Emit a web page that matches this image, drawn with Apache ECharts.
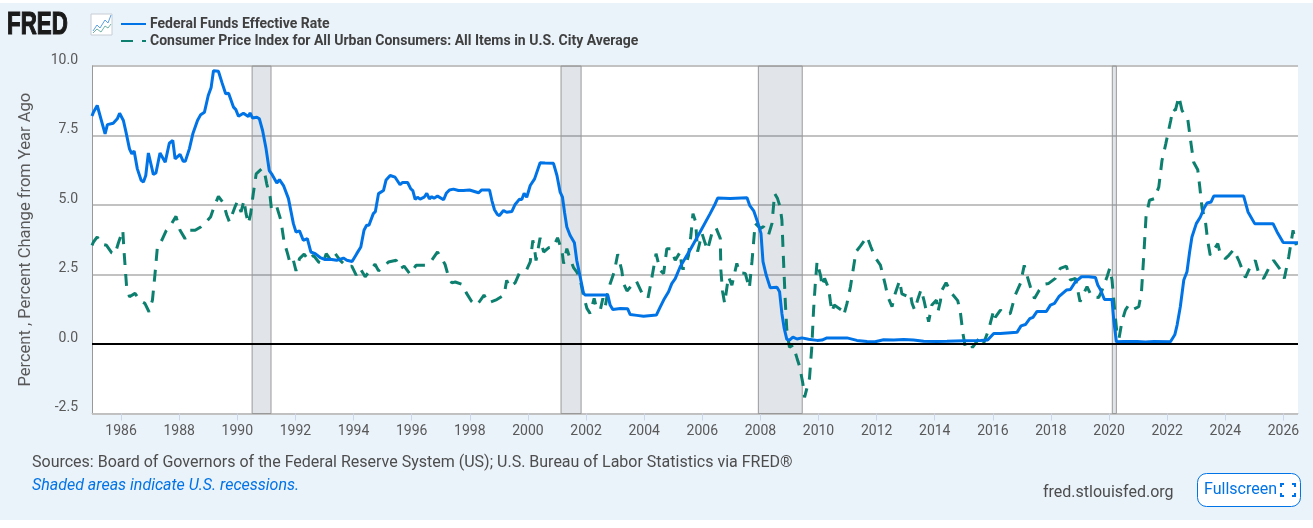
<!DOCTYPE html>
<html><head><meta charset="utf-8">
<script src="https://cdn.jsdelivr.net/npm/echarts@6/dist/echarts.min.js"></script>
<style>
html,body{margin:0;padding:0;background:#fff;width:1313px;height:528px;overflow:hidden}
#bg{position:absolute;left:0;top:3px;width:1313px;height:517px;background:#eaf2fa}
#chart{position:absolute;left:0;top:0;width:1313px;height:528px}
</style></head><body><div id="bg"></div><div id="chart"></div>
<script>
const tickYears=[1986,1988,1990,1992,1994,1996,1998,2000,2002,2004,2006,2008,2010,2012,2014,2016,2018,2020,2022,2024,2026];
const recessionStarts=[1990.51,2001.14,2007.93,2020.11];
const recessionEnds=[1991.16,2001.83,2009.44,2020.25];
const fedYears=[1985.0,1985.05,1985.18,1985.45,1985.53,1985.73,1985.87,1985.95,1986.08,1986.17,1986.29,1986.37,1986.45,1986.56,1986.69,1986.77,1986.85,1986.94,1987.11,1987.2,1987.34,1987.52,1987.66,1987.78,1987.86,1988.03,1988.14,1988.21,1988.35,1988.47,1988.63,1988.74,1988.87,1989.0,1989.1,1989.18,1989.35,1989.47,1989.6,1989.7,1989.87,1989.95,1990.04,1990.21,1990.38,1990.44,1990.52,1990.67,1990.76,1990.87,1990.99,1991.1,1991.18,1991.36,1991.45,1991.59,1991.76,1991.93,1992.02,1992.14,1992.27,1992.41,1992.53,1992.68,1992.85,1993.02,1993.19,1993.42,1993.65,1993.77,1993.95,1994.11,1994.25,1994.36,1994.45,1994.53,1994.68,1994.75,1994.86,
1995.03,1995.12,1995.26,1995.43,1995.6,1995.69,1995.86,1995.97,1996.04,1996.12,1996.2,1996.29,1996.43,1996.52,1996.61,1996.69,1996.77,1996.89,1997.1,1997.19,1997.3,1997.44,1997.61,1997.78,1997.99,1998.3,1998.41,1998.68,1998.76,1998.85,1998.95,1999.02,1999.16,1999.27,1999.45,1999.56,1999.71,1999.79,1999.87,1999.96,2000.08,2000.23,2000.42,2000.59,2000.88,2001.0,2001.11,2001.19,2001.26,2001.34,2001.45,2001.6,2001.68,2001.8,2001.91,2001.97,2002.37,2002.75,2002.83,2002.92,2003.18,2003.43,2003.52,2003.75,2003.98,2004.42,2004.53,2004.67,2004.84,2004.95,2005.07,
2005.24,2005.58,2005.93,2006.27,2006.42,2006.53,2006.96,2007.54,2007.63,2007.77,2007.9,2008.02,2008.09,2008.2,2008.34,2008.57,2008.66,2008.74,2008.82,2008.91,2009.0,2009.12,2009.26,2009.43,2009.66,2009.95,2010.12,2010.29,2010.63,2010.98,2011.32,2011.67,2011.95,2012.24,2012.59,2012.93,2013.27,2013.62,2014.08,2014.42,2015.0,2015.57,
2015.82,2016.03,2016.26,2016.83,2016.97,2017.12,2017.27,2017.38,2017.52,2017.84,2017.98,2018.12,2018.27,2018.53,2018.67,2018.84,2019.05,2019.3,2019.53,2019.61,2019.7,2019.84,2020.1,2020.16,2020.25,2020.5,2020.96,2021.25,2021.54,2022.11,2022.26,2022.34,2022.45,2022.57,2022.68,2022.77,2022.85,2023.0,2023.14,2023.26,2023.37,2023.51,2023.6,2024.63,2024.78,2025.01,2025.64,2025.78,2025.99,2026.5];
const fedRates=[8.2,8.34,8.58,7.56,7.89,7.94,8.1,8.3,8.04,7.62,7.02,6.84,6.94,6.3,5.89,5.83,6.06,6.87,6.1,6.15,6.87,6.54,7.22,7.32,6.66,6.82,6.57,6.57,7.02,7.56,8.04,8.25,8.34,8.94,9.23,9.83,9.81,9.41,9.0,9.02,8.52,8.43,8.19,8.3,8.18,8.31,8.13,8.16,8.1,7.68,7.02,6.24,6.12,5.79,5.91,5.7,5.23,4.33,4.03,4.07,3.73,3.79,3.31,3.25,3.11,3.04,3.05,3.01,3.09,3.01,2.97,3.25,3.49,4.09,4.27,4.27,4.69,4.76,5.41,
5.52,5.9,6.06,6.0,5.73,5.81,5.81,5.58,5.52,5.2,5.28,5.21,5.28,5.42,5.22,5.3,5.24,5.32,5.19,5.42,5.54,5.57,5.52,5.52,5.54,5.44,5.54,5.54,5.16,4.83,4.66,4.62,4.8,4.74,4.77,5.02,5.21,5.2,5.42,5.28,5.7,5.94,6.52,6.51,6.5,6.06,5.46,5.28,4.74,4.21,3.91,3.64,3.01,2.41,1.84,1.76,1.76,1.76,1.4,1.24,1.28,1.27,1.06,1.03,1.0,1.04,1.28,1.58,1.88,2.17,2.35,
2.78,3.38,4.04,4.69,4.99,5.25,5.23,5.26,4.99,4.79,4.4,3.98,2.96,2.48,2.02,2.04,1.88,1.1,0.56,0.17,0.14,0.25,0.18,0.22,0.17,0.13,0.14,0.22,0.22,0.22,0.13,0.09,0.08,0.15,0.14,0.16,0.14,0.1,0.09,0.1,0.12,0.13,
0.14,0.38,0.38,0.42,0.65,0.7,0.91,0.96,1.17,1.17,1.4,1.46,1.7,1.94,1.96,2.24,2.42,2.42,2.39,2.12,1.96,1.6,1.6,0.86,0.08,0.09,0.09,0.07,0.09,0.08,0.33,0.68,1.34,2.3,2.6,3.31,3.85,4.33,4.57,4.87,5.07,5.11,5.32,5.32,4.75,4.33,4.33,4.03,3.65,3.64];
const cpiYears=[1985.0,1985.05,1985.18,1985.33,1985.5,1985.68,1985.79,1985.91,1986.06,1986.1,1986.19,1986.29,1986.48,1986.65,1986.82,1986.96,1987.08,1987.17,1987.25,1987.4,1987.55,1987.74,1987.89,1988.03,1988.2,1988.37,1988.55,1988.74,1988.92,1989.08,1989.2,1989.35,1989.52,1989.64,1989.73,1989.92,1990.0,1990.13,1990.23,1990.3,1990.38,1990.46,1990.55,1990.65,1990.84,1990.92,1991.01,1991.13,1991.18,1991.36,1991.5,1991.61,1991.73,1991.82,1991.93,1992.02,1992.14,1992.3,1992.45,1992.62,1992.8,1992.94,1993.06,1993.22,1993.37,1993.54,1993.77,1993.94,1994.09,1994.23,1994.4,1994.74,1994.86,
1995.09,1995.2,1995.47,1995.6,1995.74,1995.95,1996.15,1996.46,1996.69,1996.89,1997.04,1997.15,1997.27,1997.38,1997.5,1997.73,1997.88,1998.07,1998.21,1998.33,1998.49,1998.64,1998.93,1999.18,1999.27,1999.37,1999.56,1999.71,1999.96,2000.08,2000.17,2000.25,2000.28,2000.42,2000.54,2000.71,2000.88,2001.02,2001.17,2001.23,2001.34,2001.45,2001.57,2001.68,2001.78,2001.91,2002.03,2002.14,2002.28,2002.35,2002.49,2002.58,2002.66,2002.74,2002.83,2002.97,2003.09,2003.23,2003.29,2003.41,2003.58,2003.73,2003.92,2004.13,2004.25,2004.41,2004.55,2004.67,2004.78,2004.92,2005.07,2005.24,
2005.3,2005.41,2005.53,2005.61,2005.68,2005.77,2005.84,2005.99,2006.1,2006.18,2006.33,2006.47,2006.62,2006.64,2006.7,2006.77,2006.9,2007.02,2007.19,2007.28,2007.48,2007.62,2007.71,2007.82,2008.0,2008.11,2008.28,2008.4,2008.49,2008.59,2008.68,2008.74,2008.8,2008.86,2008.91,2009.0,2009.12,2009.26,2009.35,2009.46,2009.52,2009.6,2009.69,2009.77,2009.83,2009.89,2009.95,2010.08,2010.12,2010.21,2010.35,2010.41,2010.46,2010.54,2010.79,2010.87,2010.98,2011.1,2011.19,2011.29,2011.44,2011.67,2011.8,2011.95,2012.13,2012.3,2012.38,2012.53,2012.64,2012.79,2012.87,2013.04,2013.16,2013.22,2013.31,2013.41,2013.53,2013.64,2013.79,2013.9,2014.06,2014.11,2014.19,2014.25,2014.39,2014.6,2014.79,2014.88,2014.97,2015.05,2015.22,2015.3,
2015.57,2015.68,2015.85,2016.03,2016.08,2016.26,2016.43,2016.6,2016.77,2016.95,2017.08,2017.17,2017.29,2017.43,2017.58,2017.75,2017.92,2018.15,2018.32,2018.53,2018.67,2018.84,2019.0,2019.07,2019.24,2019.41,2019.64,2019.76,2019.93,2020.02,2020.1,2020.18,2020.27,2020.34,2020.44,2020.56,2020.67,2020.82,2021.02,2021.11,2021.19,2021.27,2021.39,2021.56,2021.71,2021.82,2021.95,2022.12,2022.2,2022.28,2022.4,2022.51,2022.71,2022.82,2022.91,2023.05,2023.12,2023.2,2023.31,2023.39,2023.48,2023.54,2023.74,2023.83,2024.0,2024.12,2024.29,2024.46,2024.69,2024.86,2025.03,2025.18,2025.32,2025.49,2025.66,2025.89,2026.03,2026.18,2026.33,2026.44];
const cpiValues=[3.55,3.67,3.85,3.59,3.55,3.28,3.23,3.64,4.09,3.37,2.06,1.7,1.82,1.56,1.46,1.16,1.58,2.54,3.49,3.73,4.07,4.33,4.59,4.09,3.79,4.09,4.09,4.21,4.39,4.57,4.93,5.31,5.07,4.63,4.39,4.93,5.11,4.75,5.17,4.69,4.33,4.69,5.41,6.12,6.3,6.27,5.77,5.29,4.81,4.93,4.45,3.67,3.25,2.89,3.01,2.63,3.07,3.23,3.01,3.19,2.95,2.89,3.25,3.01,3.25,3.01,2.78,2.8,2.48,2.72,2.42,2.87,2.63,
2.83,2.95,3.01,2.71,2.8,2.51,2.83,2.83,3.01,3.31,3.07,2.86,2.41,2.2,2.23,2.15,1.84,1.52,1.39,1.52,1.76,1.48,1.6,1.76,2.29,2.05,2.2,2.56,2.68,2.95,3.73,3.25,3.0,3.82,3.31,3.46,3.49,3.82,3.37,2.89,3.43,3.07,2.75,2.59,2.41,1.76,1.28,1.1,1.64,1.34,1.22,1.64,1.34,1.82,2.17,2.59,3.23,2.65,2.17,1.91,2.11,2.27,1.84,1.64,2.29,3.25,2.65,2.53,3.43,3.43,3.01,3.31,
2.72,2.72,3.2,3.92,4.69,4.4,3.32,3.98,3.62,3.38,3.98,4.19,3.8,2.66,1.88,1.46,2.42,2.12,2.9,2.56,2.54,2.0,2.96,4.34,4.16,4.22,3.92,4.34,5.41,5.23,4.93,4.46,2.9,1.46,0.5,-0.12,-0.04,-0.51,-0.81,-1.41,-1.92,-1.59,-1.23,-0.1,1.22,2.18,2.96,2.42,2.08,2.36,2.0,1.52,1.16,1.4,1.22,1.04,1.46,2.06,2.66,3.32,3.52,3.86,3.5,3.11,2.84,2.12,1.72,1.34,1.82,2.28,1.8,1.72,1.82,1.46,1.22,1.58,1.96,1.52,0.8,1.4,1.58,1.16,1.52,1.94,2.2,1.8,1.56,1.16,0.38,-0.1,0.0,-0.12,
0.26,0.02,0.5,1.22,0.96,1.22,1.06,1.1,1.76,2.18,2.83,2.48,2.06,1.64,1.91,2.15,2.18,2.36,2.72,2.8,2.3,2.36,1.52,1.7,2.06,1.7,1.67,1.94,2.42,2.72,2.3,1.34,0.38,0.2,0.8,1.22,1.4,1.24,1.34,1.82,3.13,4.57,5.17,5.23,5.65,6.6,7.2,8.04,8.46,8.4,8.9,8.4,8.06,7.2,6.54,6.27,5.65,4.87,4.45,3.73,3.19,3.19,3.61,3.22,3.07,3.19,3.4,3.01,2.39,2.78,3.01,2.42,2.36,2.72,3.01,2.68,2.36,3.13,4.09,3.55];
const zip=(a,b)=>a.map((v,i)=>[v,b[i]]);
const FONT='Roboto';
const BLUE='#0073e6',TEAL='#0d7f6f';
const corner=(pts)=>({type:'polyline',shape:{points:pts},style:{stroke:BLUE,fill:null,lineWidth:2},silent:true});
const chart=echarts.init(document.getElementById('chart'));
chart.setOption({
  animation:false,
  backgroundColor:'transparent',
  textStyle:{fontFamily:FONT},
  grid:{left:92,right:15,top:66,bottom:114.5,show:true,backgroundColor:'#fff',borderWidth:0},
  legend:{show:true,orient:'vertical',left:115,top:12,itemWidth:25,itemHeight:4,itemGap:3,itemStyle:{opacity:0},data:['Federal Funds Effective Rate','Consumer Price Index for All Urban Consumers: All Items in U.S. City Average'],
    textStyle:{fontFamily:FONT,fontSize:14,fontWeight:'bold',color:'#404040',padding:[0,0,0,-1]},selectedMode:false},
  xAxis:{type:'value',min:1985,max:2026.5,
    axisLine:{onZero:false,show:true,lineStyle:{color:'#c0c0c0',width:1}},
    splitLine:{show:false},
    axisTick:{show:true,length:7,lineStyle:{color:'#ccd6eb'},customValues:tickYears},
    axisLabel:{show:true,color:'#595959',fontSize:14,fontFamily:FONT,margin:11,customValues:tickYears,formatter:v=>String(v),hideOverlap:false}},
  yAxis:{type:'value',min:-2.5,max:10,interval:2.5,
    name:'Percent , Percent Change from Year Ago',nameLocation:'middle',nameGap:58,nameRotate:90,
    nameTextStyle:{fontFamily:FONT,fontSize:16.5,color:'#595959'},
    axisLine:{show:true,lineStyle:{color:'#999',width:1}},
    axisTick:{show:false},
    splitLine:{show:true,lineStyle:{color:'#c2c2c2',width:2}},
    axisLabel:{color:'#595959',fontSize:14,fontFamily:FONT,margin:14,verticalAlign:'bottom',lineHeight:12,formatter:v=>v.toFixed(1)}},
  series:[
    {name:'recessions',type:'line',data:[],z:1,silent:true,
      markArea:{silent:true,itemStyle:{color:'rgba(70,95,120,0.16)',borderColor:'#999',borderWidth:1},
        data:recessionStarts.map((s,i)=>[{xAxis:s},{xAxis:recessionEnds[i]}])},
      markLine:{silent:true,symbol:'none',label:{show:false},lineStyle:{color:'#000',width:2,type:'solid'},data:[{yAxis:0}]}},
    {name:'Consumer Price Index for All Urban Consumers: All Items in U.S. City Average',type:'line',z:3,showSymbol:false,symbol:'none',
      data:zip(cpiYears,cpiValues),lineStyle:{color:TEAL,width:3,type:[12,9]},itemStyle:{color:TEAL}},
    {name:'Federal Funds Effective Rate',type:'line',z:4,showSymbol:false,symbol:'none',
      data:zip(fedYears,fedRates),lineStyle:{color:BLUE,width:3},itemStyle:{color:BLUE}}
  ],
  graphic:[
    {type:'text',x:7,y:10,scaleX:0.72,style:{text:'FRED',font:'bold 31px "Liberation Sans"',fill:'#1a1a1a',stroke:'#1a1a1a',lineWidth:1.2}},
    {type:'rect',shape:{x:91,y:14,width:21,height:21},style:{fill:'#fff',stroke:'#c8ced4',lineWidth:1}},
    {type:'polyline',shape:{points:[[93,31],[97,25],[100,28],[105,20],[108,23],[111,15]]},style:{stroke:'#5aa0e6',fill:null,lineWidth:1}},
    {type:'polyline',shape:{points:[[93,33],[97,29],[101,32],[105,26],[108,28],[111,24]]},style:{stroke:'#6fb3a8',fill:null,lineWidth:1}},
    {type:'text',x:32,y:455,style:{text:'Sources: Board of Governors of the Federal Reserve System (US); U.S. Bureau of Labor Statistics via FRED®',font:'16px Roboto',fill:'#4d4d4d'}},
    {type:'text',x:32,y:478,style:{text:'Shaded areas indicate U.S. recessions.',font:'italic 16px Roboto',fill:BLUE}},
    {type:'text',x:1043,y:485,style:{text:'fred.stlouisfed.org',font:'16px Roboto',fill:'#4d4d4d'}},
    {type:'rect',shape:{x:1197.5,y:473.5,width:103,height:33,r:9},style:{fill:'#fff',stroke:BLUE,lineWidth:1}},
    {type:'text',x:1204,y:482,style:{text:'Fullscreen',font:'16px Roboto',fill:BLUE}},
    corner([[1281,487],[1281,484],[1284,484]]),corner([[1292,484],[1295,484],[1295,487]]),
    corner([[1281,493],[1281,496],[1284,496]]),corner([[1292,496],[1295,496],[1295,493]])
  ]
});
</script></body></html>
